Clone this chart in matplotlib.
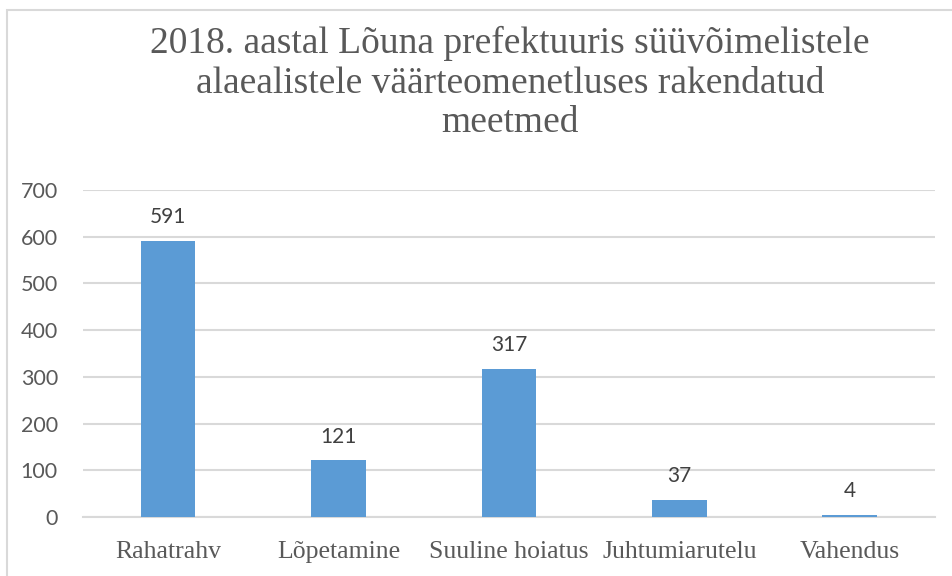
import matplotlib.pyplot as plt
from matplotlib.patches import Rectangle

# data
categories = ["Rahatrahv", "Lõpetamine", "Suuline hoiatus", "Juhtumiarutelu", "Vahendus"]
values = [591, 121, 317, 37, 4]
yticks = [0, 100, 200, 300, 400, 500, 600, 700]

title = "2018. aastal Lõuna prefektuuris süüvõimelistele\nalaealistele väärteomenetluses rakendatud\nmeetmed"

fig = plt.figure(figsize=(9.53, 5.76), dpi=100)
ax = fig.add_axes([0.087, 0.1024, 0.894, 0.568])

# frame around the chart area
fig.patches.append(Rectangle((7 / 953, -0.1), 1.2, 1 - 10 / 576 + 0.1,
                             transform=fig.transFigure, fill=False,
                             edgecolor="#D9D9D9", linewidth=1.5))

x = range(len(categories))
bars = ax.bar(x, values, width=0.32, color="#5B9BD5", zorder=3)

for i, v in enumerate(values):
    ax.annotate(str(v), (i, v), xytext=(0, 10), textcoords="offset points",
                ha="center", va="bottom", fontsize=15, family="Lato", color="#404040")

ax.set_xlim(-0.5, len(categories) - 0.5)
ax.set_ylim(0, 700)
ax.set_yticks(yticks)
ax.set_yticklabels([str(t) for t in yticks], fontsize=15.5, family="Lato", color="#595959")
ax.set_xticks(list(x))
ax.set_xticklabels(categories, fontsize=18.5, family="Liberation Serif", color="#595959")
ax.tick_params(length=0)
ax.tick_params(axis="y", pad=18)
ax.tick_params(axis="x", pad=17)

ax.grid(axis="y", color="#D9D9D9", linewidth=1.5, zorder=0)
for s in ["top", "right", "left"]:
    ax.spines[s].set_visible(False)
ax.spines["bottom"].set_color("#D9D9D9")
ax.spines["bottom"].set_linewidth(1.5)

fig.text(0.535, 0.856, title, ha="center", va="center", fontsize=27,
         family="Liberation Serif", color="#595959", linespacing=1.18)

fig.savefig("out.png", dpi=100)
